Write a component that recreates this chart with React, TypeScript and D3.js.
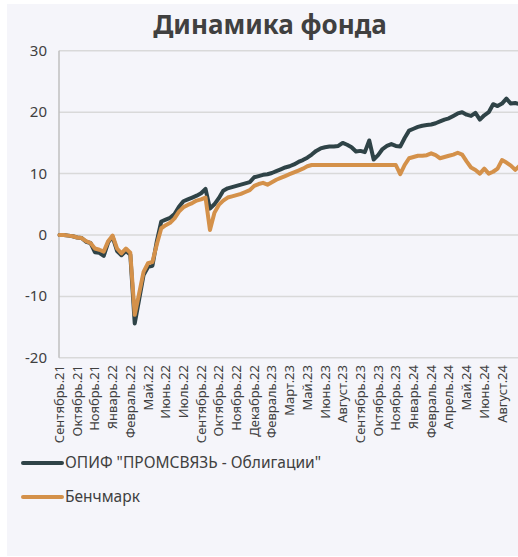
import React from "react";
import * as d3 from "d3";

// tick labels, one every POINTS_PER_LABEL observations
const tickLabels = [
  "Сентябрь.21", "Октябрь.21", "Ноябрь.21", "Январь.22", "Февраль.22", "Май.22",
  "Июнь.22", "Июль.22", "Сентябрь.22", "Октябрь.22", "Ноябрь.22", "Декабрь.22",
  "Февраль.23", "Март.23", "Май.23", "Июнь.23", "Август.23", "Сентябрь.23",
  "Октябрь.23", "Ноябрь.23", "Январь.24", "Февраль.24", "Апрель.24", "Май.24",
  "Июнь.24", "Август.24",
];
const POINTS_PER_LABEL = 4;

const fundValues = [
  0, 0, -0.1, -0.2, -0.4, -0.5, -1.1, -1.3, -2.8, -2.9,
  -3.4, -1.2, -0.3, -2.6, -3.3, -2.6, -3.2, -14.4, -10.5, -6.5,
  -5.2, -5.0, -1.0, 2.2, 2.5, 2.8, 3.4, 4.6, 5.5, 5.8,
  6.1, 6.4, 6.8, 7.5, 4.3, 5.0, 6.0, 7.2, 7.6, 7.8,
  8.0, 8.2, 8.4, 8.6, 9.4, 9.6, 9.8, 9.9, 10.1, 10.4,
  10.7, 11.0, 11.2, 11.5, 11.9, 12.2, 12.6, 13.1, 13.7, 14.1,
  14.3, 14.4, 14.4, 14.5, 15.0, 14.7, 14.3, 13.6, 13.7, 13.5,
  15.4, 12.3, 13.0, 14.0, 14.5, 14.8, 14.5, 14.4, 15.8, 17.0,
  17.3, 17.6, 17.8, 17.9, 18.0, 18.2, 18.5, 18.8, 19.0, 19.4,
  19.8, 20.0, 19.6, 19.4, 19.9, 18.8, 19.5, 20.0, 21.3, 21.0,
  21.4, 22.2, 21.4, 21.5, 21.3,
];

const benchmarkValues = [
  0, 0, -0.1, -0.2, -0.4, -0.5, -1.0, -1.3, -2.2, -2.4,
  -2.7, -1.0, -0.1, -2.2, -3.0, -2.2, -2.9, -13.0, -9.5, -6.0,
  -4.6, -4.4, -1.5, 1.1, 1.6, 2.0, 2.7, 3.8, 4.5, 4.9,
  5.2, 5.6, 5.8, 6.1, 0.8, 3.6, 4.9, 5.6, 6.1, 6.3,
  6.5, 6.7, 7.0, 7.3, 8.0, 8.3, 8.5, 8.2, 8.6, 9.0,
  9.3, 9.6, 9.9, 10.2, 10.5, 10.8, 11.2, 11.4, 11.4, 11.4,
  11.4, 11.4, 11.4, 11.4, 11.4, 11.4, 11.4, 11.4, 11.4, 11.4,
  11.4, 11.4, 11.4, 11.4, 11.4, 11.4, 11.4, 9.9, 11.4, 12.5,
  12.7, 12.9, 12.9, 13.0, 13.3, 13.0, 12.5, 12.7, 12.9, 13.1,
  13.4, 13.1, 12.0, 11.0, 10.6, 10.0, 10.8, 10.0, 10.3, 10.8,
  12.2, 11.8, 11.3, 10.6, 11.3,
];

const yTicks = [-20, -10, 0, 10, 20, 30];

const seriesNames = ['ОПИФ "ПРОМСВЯЗЬ - Облигации"', "Бенчмарк"];

const W = 518;
const H = 557;
const FONT = "'Noto Sans', sans-serif";
const TEXT = "#404040";
const FUND_COLOR = "#2f4347";
const BENCH_COLOR = "#d4914a";

export default function App() {
  const n = tickLabels.length * POINTS_PER_LABEL;
  const x = d3.scaleLinear().domain([0, n]).range([59.5, 59.5 + 17.7 * tickLabels.length]);
  const y = d3.scaleLinear().domain([-20, 30]).range([357.8, 50.8]);

  const line = d3.line<number>()
    .x((_, i) => x(i))
    .y(d => y(d));

  return (
    <div style={{ position: "absolute", left: 0, top: 0 }}>
      <svg width={W} height={H} style={{ display: "block" }}>
        <rect x={0} y={0} width={W} height={H} fill="#ffffff" />
        <rect x={7} y={4} width={W - 7} height={552} fill="#f5f5fa" />

        <text x={270} y={34} textAnchor="middle" fontFamily={FONT} fontSize={26}
          fontWeight={700} fill={TEXT}>Динамика фонда</text>

        {/* gridlines */}
        {yTicks.map(t => (
          <line key={t} x1={59} x2={W} y1={y(t)} y2={y(t)} stroke="#d9d9d9" strokeWidth={1.5} />
        ))}
        <line x1={59} x2={59} y1={y(30)} y2={y(-20)} stroke="#bfbfbf" strokeWidth={1.5} />

        {/* y labels */}
        {yTicks.map(t => (
          <text key={t} x={47} y={y(t) + 5} textAnchor="end" fontFamily={FONT}
            fontSize={15} fill={TEXT}>{t}</text>
        ))}

        {/* x labels */}
        {tickLabels.map((lab, i) => {
          const px = x(i * POINTS_PER_LABEL);
          return (
            <text key={lab + i} transform={`translate(${px + 4.5},365) rotate(-90)`}
              textAnchor="end" fontFamily={FONT} fontSize={13} fill={TEXT}>{lab}</text>
          );
        })}

        <path d={line(fundValues) ?? ""} fill="none" stroke={FUND_COLOR} strokeWidth={4}
          strokeLinejoin="round" strokeLinecap="round" />
        <path d={line(benchmarkValues) ?? ""} fill="none" stroke={BENCH_COLOR} strokeWidth={4}
          strokeLinejoin="round" strokeLinecap="round" />

        {/* legend */}
        {seriesNames.map((name, i) => {
          const ly = 463 + i * 34;
          return (
            <g key={name}>
              <line x1={23} x2={62} y1={ly} y2={ly} stroke={i === 0 ? FUND_COLOR : BENCH_COLOR}
                strokeWidth={4} strokeLinecap="round" />
              <text x={65} y={ly + 5} fontFamily={FONT} fontSize={15.5} fill={TEXT}>{name}</text>
            </g>
          );
        })}
      </svg>
    </div>
  );
}
